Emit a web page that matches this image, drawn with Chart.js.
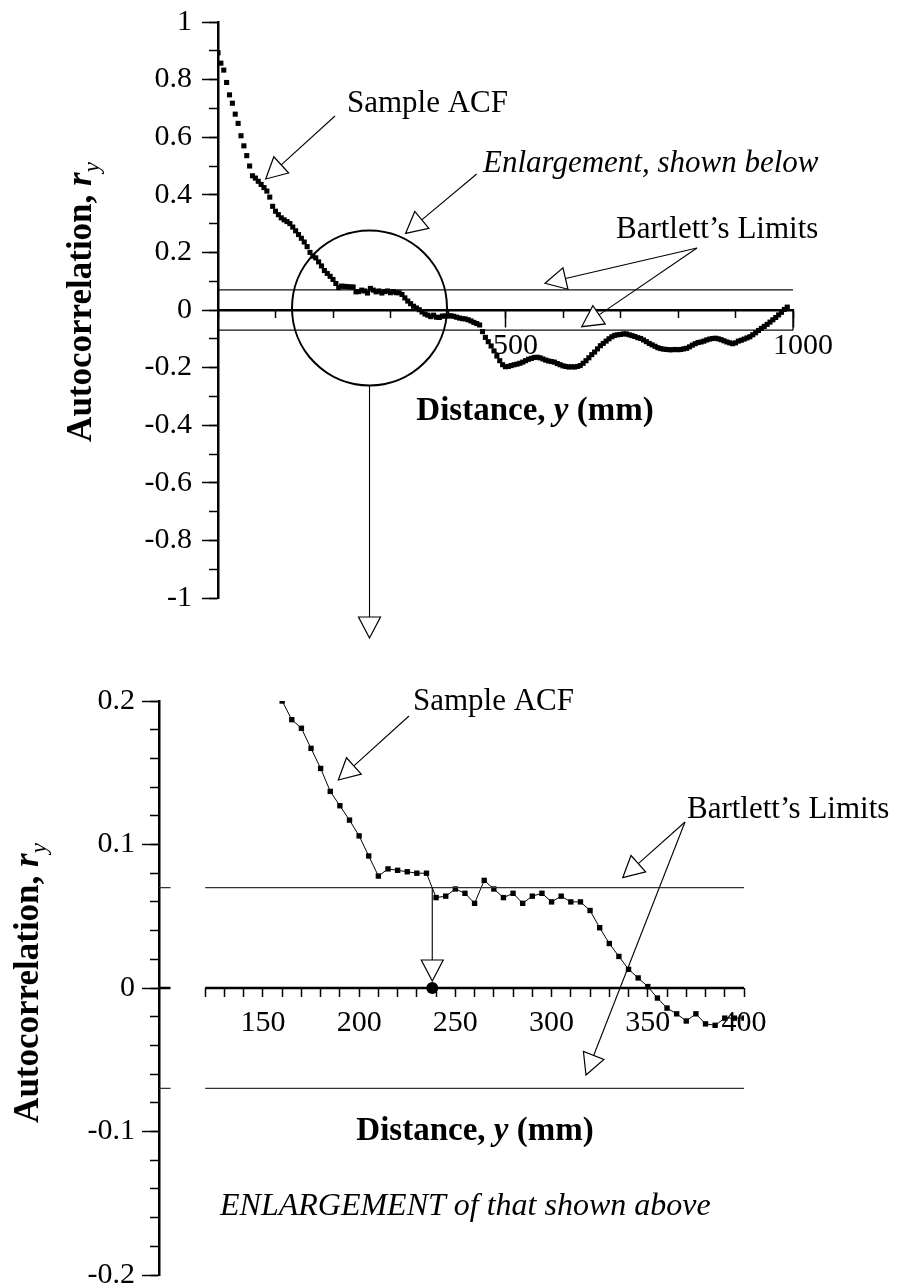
<!DOCTYPE html>
<html><head><meta charset="utf-8">
<script src="https://cdn.jsdelivr.net/npm/chart.js@4.4.1/dist/chart.umd.min.js"></script>
<style>
html,body{margin:0;padding:0;background:#fff;}
#wrap{position:relative;width:898px;height:1288px;overflow:hidden;}
canvas{position:absolute;left:0;top:0;}
</style></head><body>
<div id="wrap"><canvas id="topChart" width="898" height="1288"></canvas><canvas id="botChart" width="898" height="1288"></canvas></div>
<script>
// ---------------- DATA ----------------
const lagStepMm = 5;            // sampling interval of the ACF (mm)
const firstLagMm = 0;
// Sample ACF r_y, lag 0 .. 990 mm in 5 mm steps
const acfValues = [
 0.893,0.857,0.833,0.790,0.747,0.718,0.680,0.648,0.605,0.570,
 0.536,0.500,0.466,0.458,0.447,0.436,0.425,0.413,0.392,0.360,
 0.343,0.331,0.320,0.313,0.307,0.300,0.288,0.275,0.262,0.249,
 0.236,0.220,0.200,0.187,0.181,0.167,0.153,0.137,0.127,0.117,
 0.106,0.092,0.078,0.083,0.082,0.081,0.080,0.080,0.063,0.064,
 0.069,0.066,0.059,0.075,0.069,0.063,0.066,0.059,0.064,0.066,
 0.060,0.064,0.060,0.060,0.054,0.042,0.031,0.022,0.013,0.007,
 0.001,-0.007,-0.014,-0.018,-0.023,-0.018,-0.025,-0.026,-0.021,-0.021,
 -0.021,-0.020,-0.022,-0.025,-0.028,-0.030,-0.031,-0.034,-0.038,-0.043,
 -0.047,-0.052,-0.075,-0.095,-0.110,-0.125,-0.142,-0.160,-0.176,-0.190,
 -0.197,-0.196,-0.193,-0.190,-0.188,-0.185,-0.181,-0.176,-0.171,-0.168,
 -0.165,-0.164,-0.166,-0.170,-0.174,-0.177,-0.179,-0.181,-0.186,-0.190,
 -0.194,-0.196,-0.198,-0.197,-0.198,-0.196,-0.193,-0.185,-0.176,-0.166,
 -0.155,-0.146,-0.135,-0.124,-0.116,-0.108,-0.100,-0.093,-0.088,-0.086,
 -0.085,-0.083,-0.083,-0.086,-0.089,-0.092,-0.096,-0.099,-0.104,-0.110,
 -0.116,-0.121,-0.126,-0.131,-0.134,-0.136,-0.137,-0.138,-0.138,-0.137,
 -0.138,-0.137,-0.135,-0.133,-0.128,-0.122,-0.117,-0.113,-0.111,-0.108,
 -0.104,-0.101,-0.099,-0.098,-0.100,-0.103,-0.107,-0.111,-0.114,-0.117,
 -0.114,-0.108,-0.105,-0.101,-0.097,-0.093,-0.086,-0.079,-0.071,-0.064,
 -0.057,-0.050,-0.042,-0.034,-0.026,-0.017,-0.008,0.002,0.010
];
const bartlettLimit = 0.07;
const topXRange = [0, 1000];
const topYRange = [-1, 1];
const topXLabelTicks = [500, 1000];
const botXRange = [96, 400];
const botYRange = [-0.2, 0.2];
const botLineStart = 120;          // where the horizontal reference lines resume
const botStubEnd = 102;            // short stub next to the axis
const botXTicks = [120,130,140,150,160,170,180,190,200,210,220,230,240,250,260,270,280,290,300,310,320,330,340,350,360,370,380,390,400];
const botXLabels = [150, 200, 250, 300, 350, 400];
const enlargeRange = [160, 400];
const crossingMm = 238;            // where the ACF drops below Bartlett's limit
const circleCentreMm = 263.5;

// ---------------- HELPERS ----------------
const SERIF = "'Liberation Serif','Times New Roman',serif";
const tickFont = {family: SERIF, size: 30};
const acfPoints = acfValues.map((v, i) => ({x: firstLagMm + i * lagStepMm, y: v}));
const enlargePoints = acfPoints.filter(p => p.x >= enlargeRange[0] && p.x <= enlargeRange[1]);
const fmt1 = v => { const r = Math.round(v * 10) / 10; return String(r === 0 ? 0 : r); };

function arrow(ctx, x1, y1, x2, y2, headLen = 21, headHalf = 11) {
  const a = Math.atan2(y2 - y1, x2 - x1);
  const bx = x2 - headLen * Math.cos(a), by = y2 - headLen * Math.sin(a);
  ctx.save();
  ctx.strokeStyle = '#000'; ctx.lineWidth = 1.1;
  ctx.beginPath(); ctx.moveTo(x1, y1); ctx.lineTo(bx, by); ctx.stroke();
  const px = -Math.sin(a) * headHalf, py = Math.cos(a) * headHalf;
  ctx.beginPath(); ctx.moveTo(x2, y2); ctx.lineTo(bx + px, by + py); ctx.lineTo(bx - px, by - py); ctx.closePath();
  ctx.fillStyle = '#fff'; ctx.fill(); ctx.lineWidth = 1.2; ctx.stroke();
  ctx.restore();
}
function runs(ctx, x, y, parts, align) {
  let w = 0;
  parts.forEach(p => { ctx.font = p.font; p.w = ctx.measureText(p.t).width; w += p.w; });
  let cx = align === 'center' ? x - w / 2 : x;
  ctx.fillStyle = '#000'; ctx.textBaseline = 'alphabetic'; ctx.textAlign = 'left';
  parts.forEach(p => { ctx.font = p.font; ctx.fillText(p.t, cx, y + (p.dy || 0)); cx += p.w; });
}
function yTitle(ctx, bx, cy) {
  ctx.save(); ctx.translate(bx, cy); ctx.rotate(-Math.PI / 2);
  runs(ctx, 0, 0, [
    {t: 'Autocorrelation, ', font: 'bold 35px ' + SERIF},
    {t: 'r', font: 'italic bold 35px ' + SERIF},
    {t: 'y', font: 'italic 23px ' + SERIF, dy: 8}
  ], 'center');
  ctx.restore();
}
function xTitle(ctx, cx, by) {
  runs(ctx, cx, by, [
    {t: 'Distance, ', font: 'bold 33px ' + SERIF},
    {t: 'y', font: 'italic bold 33px ' + SERIF},
    {t: ' (mm)', font: 'bold 33px ' + SERIF}
  ], 'center');
}
function plainText(ctx, t, x, y, italic, size) {
  ctx.save(); ctx.font = (italic ? 'italic ' : '') + (size || 31) + 'px ' + SERIF;
  ctx.fillStyle = '#000'; ctx.textAlign = 'left'; ctx.textBaseline = 'alphabetic';
  ctx.fillText(t, x, y); ctx.restore();
}
const baseOpts = {
  responsive: false, animation: false, events: [],
  plugins: {legend: {display: false}, tooltip: {enabled: false}},
};

// ---------------- TOP CHART ----------------
const topAnno = {
  id: 'topAnno',
  afterDraw(chart) {
    const ctx = chart.ctx, xs = chart.scales.x, ys = chart.scales.y;
    ctx.save(); ctx.strokeStyle = '#000'; ctx.lineWidth = 1.3;
    ctx.beginPath(); ctx.moveTo(xs.getPixelForValue(1000), ys.getPixelForValue(0));
    ctx.lineTo(xs.getPixelForValue(1000), ys.getPixelForValue(-bartlettLimit)); ctx.stroke();
    const cx = xs.getPixelForValue(circleCentreMm), cy = ys.getPixelForValue(0) - 2, r = 77.5;
    ctx.lineWidth = 2; ctx.beginPath(); ctx.arc(cx, cy, r, 0, Math.PI * 2); ctx.stroke();
    ctx.restore();
    arrow(ctx, cx, cy + r, cx, 638, 21, 11);
    plainText(ctx, 'Sample ACF', 347, 112, false);
    arrow(ctx, 335, 116, 265.7, 179);
    plainText(ctx, 'Enlargement, shown below', 483, 172, true);
    arrow(ctx, 476.7, 174, 405.7, 233.3);
    plainText(ctx, 'Bartlett\u2019s Limits', 616, 238, false);
    arrow(ctx, 697, 248, 545, 283.3);
    arrow(ctx, 697, 248, 581.7, 326.7);
    yTitle(ctx, 91, 302);
    xTitle(ctx, 535, 420);
  }
};
new Chart(document.getElementById('topChart'), {
  type: 'scatter',
  data: {datasets: [
    {data: acfPoints, showLine: false, pointStyle: 'rect', pointRadius: 3.6, backgroundColor: '#000', borderWidth: 0},
    {data: [{x: topXRange[0], y: bartlettLimit}, {x: topXRange[1], y: bartlettLimit}], showLine: true, pointRadius: 0, borderColor: '#111', borderWidth: 1.3},
    {data: [{x: topXRange[0], y: -bartlettLimit}, {x: topXRange[1], y: -bartlettLimit}], showLine: true, pointRadius: 0, borderColor: '#111', borderWidth: 1.3}
  ]},
  options: Object.assign({}, baseOpts, {
    layout: {padding: {top: 22, right: 105, bottom: 690, left: 0}},
    scales: {
      x: {type: 'linear', min: topXRange[0], max: topXRange[1], position: {y: 0},
        border: {display: true, color: '#000', width: 2.5},
        grid: {drawOnChartArea: false, drawTicks: true, tickLength: 16, tickWidth: 1.5, tickColor: '#000'},
        afterBuildTicks: s => { s.ticks = topXLabelTicks.map(v => ({value: v})); },
        ticks: {font: tickFont, color: '#000', padding: 2, labelOffset: 10, maxRotation: 0, autoSkip: false,
          callback: v => String(v)}},
      xMinor: {type: 'linear', axis: 'x', min: topXRange[0], max: topXRange[1], position: {y: 0},
        border: {display: false},
        grid: {drawOnChartArea: false, drawTicks: true, tickLength: 8, tickWidth: 1.5, tickColor: '#000'},
        ticks: {display: false, stepSize: 100}},
      y: {type: 'linear', min: topYRange[0], max: topYRange[1], position: 'left',
        border: {display: true, color: '#000', width: 2.5},
        grid: {drawOnChartArea: false, drawTicks: true, tickLength: 16, tickWidth: 1.5, tickColor: '#000'},
        ticks: {stepSize: 0.2, font: tickFont, color: '#000', padding: 10, callback: fmt1},
        afterFit: s => { s.width = 218; s.paddingTop = 0; s.paddingBottom = 0; }},
      yMinor: {type: 'linear', axis: 'y', min: topYRange[0], max: topYRange[1], position: {x: 0},
        border: {display: false},
        grid: {drawOnChartArea: false, drawTicks: true, tickLength: 9, tickWidth: 1.5, tickColor: '#000'},
        ticks: {display: false, stepSize: 0.1}}
    }
  }),
  plugins: [topAnno]
});

// ---------------- BOTTOM CHART ----------------
const botAnno = {
  id: 'botAnno',
  afterDraw(chart) {
    const ctx = chart.ctx, xs = chart.scales.x, ys = chart.scales.y;
    const mx = xs.getPixelForValue(crossingMm);
    arrow(ctx, mx, ys.getPixelForValue(bartlettLimit), mx, ys.getPixelForValue(0) - 7, 21, 11);
    plainText(ctx, 'Sample ACF', 413, 710, false);
    arrow(ctx, 409, 716, 338.3, 780);
    plainText(ctx, 'Bartlett\u2019s Limits', 687, 818, false);
    arrow(ctx, 685, 822, 622.7, 877.7);
    arrow(ctx, 685, 822, 586, 1075);
    plainText(ctx, 'ENLARGEMENT of that shown above', 220, 1215, true, 32);
    yTitle(ctx, 38, 983);
    xTitle(ctx, 475, 1140);
  }
};
const refLine = v => [{x: botXRange[0], y: v}, {x: botStubEnd, y: v}, {x: (botStubEnd + botLineStart) / 2, y: null}, {x: botLineStart, y: v}, {x: botXRange[1], y: v}];
new Chart(document.getElementById('botChart'), {
  type: 'scatter',
  data: {datasets: [
    {data: refLine(0), showLine: true, spanGaps: false, pointRadius: 0, borderColor: '#000', borderWidth: 2.5},
    {data: refLine(bartlettLimit), showLine: true, spanGaps: false, pointRadius: 0, borderColor: '#333', borderWidth: 1.3},
    {data: refLine(-bartlettLimit), showLine: true, spanGaps: false, pointRadius: 0, borderColor: '#333', borderWidth: 1.3},
    {data: enlargePoints, showLine: true, borderColor: '#000', borderWidth: 1, pointStyle: 'rect', pointRadius: 3.8, pointBackgroundColor: '#000', pointBorderWidth: 0},
    {data: [{x: crossingMm, y: 0}], pointStyle: 'circle', pointRadius: 6, pointBackgroundColor: '#000', pointBorderWidth: 0}
  ]},
  options: Object.assign({}, baseOpts, {
    layout: {padding: {top: 701, right: 154, bottom: 13, left: 0}},
    scales: {
      x: {type: 'linear', min: botXRange[0], max: botXRange[1], position: {y: 0},
        border: {display: false},
        grid: {drawOnChartArea: false, drawTicks: true, tickLength: 9, tickWidth: 1.5, tickColor: '#000'},
        afterBuildTicks: s => { s.ticks = botXTicks.map(v => ({value: v})); },
        ticks: {font: tickFont, color: '#000', padding: 8, maxRotation: 0, autoSkip: false,
          callback: v => botXLabels.includes(v) ? String(v) : ''}},
      y: {type: 'linear', min: botYRange[0], max: botYRange[1], position: 'left',
        border: {display: true, color: '#000', width: 2.5},
        grid: {drawOnChartArea: false, drawTicks: true, tickLength: 17, tickWidth: 1.5, tickColor: '#000'},
        ticks: {stepSize: 0.1, font: tickFont, color: '#000', padding: 7, callback: fmt1},
        afterFit: s => { s.width = 159; s.paddingTop = 0; s.paddingBottom = 0; }},
      yMinor: {type: 'linear', axis: 'y', min: botYRange[0], max: botYRange[1], position: {x: botXRange[0]},
        border: {display: false},
        grid: {drawOnChartArea: false, drawTicks: true, tickLength: 9, tickWidth: 1.5, tickColor: '#000'},
        ticks: {display: false, stepSize: 0.02}}
    }
  }),
  plugins: [botAnno]
});
</script>
</body></html>
